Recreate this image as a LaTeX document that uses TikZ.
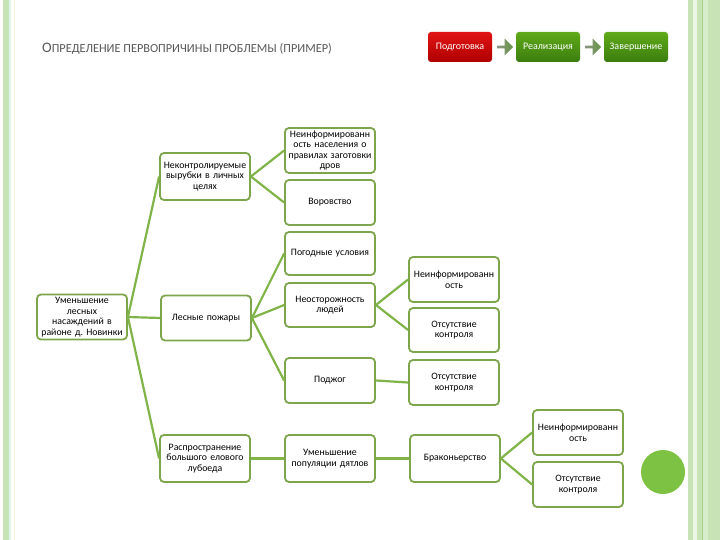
\documentclass[tikz,border=0pt]{standalone}
\usepackage{fontspec}
\setmainfont{Carlito}
\frenchspacing
\usetikzlibrary{shapes.arrows}
\definecolor{boxc}{RGB}{125,165,75}
\definecolor{linec}{RGB}{128,180,72}
\definecolor{titlec}{RGB}{89,89,89}
\definecolor{stripea}{RGB}{200,228,182}
\definecolor{stripeb}{RGB}{165,210,140}
\definecolor{stripec}{RGB}{225,245,240}
\definecolor{striped}{RGB}{250,240,215}
\definecolor{stripee}{RGB}{235,246,228}
\definecolor{stripef}{RGB}{215,236,202}
\definecolor{circc}{RGB}{125,194,66}
\definecolor{redtop}{RGB}{225,20,20}
\definecolor{redbot}{RGB}{175,0,0}
\definecolor{grtop}{RGB}{95,170,25}
\definecolor{grbot}{RGB}{60,125,15}
\definecolor{arl}{RGB}{140,150,130}
\definecolor{arr}{RGB}{100,150,70}
\begin{document}
\begin{tikzpicture}[x=1pt,y=-1pt,
  bx/.style={draw=boxc, line width=1.8pt, rounded corners=4pt, fill=white,
    minimum width=90pt, minimum height=45pt, align=center, inner sep=1pt,
    text width=88pt, font=\fontsize{9.8}{10.6}\selectfont},
  ln/.style={draw=linec, line width=2.2pt},
  btnred/.style={rounded corners=3pt, minimum width=64pt, minimum height=30pt,
    top color=redtop, bottom color=redbot,
    text=white, font=\fontsize{10}{11}\selectfont, inner sep=1pt},
  btngreen/.style={rounded corners=3pt, minimum width=64pt, minimum height=30pt,
    top color=grtop, bottom color=grbot,
    text=white, font=\fontsize{10}{11}\selectfont, inner sep=1pt},
  barrow/.style={single arrow, minimum height=16pt, minimum width=17pt, single arrow head extend=1pt,
    inner sep=0pt, left color=arl, right color=arr}
]
\useasboundingbox (0,0) rectangle (720,540);
\fill[white] (0,0) rectangle (720,540);
% left stripes
\fill[stripea] (3,0) rectangle (9,540);
\fill[stripec] (9,0) rectangle (11,540);
\fill[striped] (14,0) rectangle (15,540);
% right stripes
\fill[stripea] (688,0) rectangle (720,540);
\fill[stripee] (693,0) rectangle (697,540);
\fill[stripeb] (701.5,0) rectangle (703,540);
\fill[stripef] (703,0) rectangle (708,540);
% title
\node[anchor=base west, text=titlec, inner sep=0pt] (title) at (42,53)
  {{\fontsize{14.5}{16}\selectfont О}{\fontsize{12.3}{14}\selectfont ПРЕДЕЛЕНИЕ ПЕРВОПРИЧИНЫ ПРОБЛЕМЫ (ПРИМЕР)}};
% buttons
\node[btnred] (b1) at (460,47) {Подготовка};
\node[btngreen] (b2) at (548,47) {Реализация};
\node[btngreen] (b3) at (636,47) {Завершение};
\node[barrow] (a1) at (504.5,47) {};
\node[barrow] (a2) at (592.5,47) {};
% circle
\fill[circc] (663,472) circle (22);
% nodes
\node[bx] (root) at (82,317) {Уменьшение\\лесных\\насаждений в\\районе д. Новинки};
\node[bx, minimum height=47pt] (nk) at (205,176.5) {Неконтролируемые\\вырубки в личных\\целях};
\node[bx] (lp) at (206,318) {Лесные пожары};
\node[bx, minimum height=47pt] (rb) at (205,458.5) {Распространение\\большого елового\\лубоеда};
\node[bx] (nn) at (330,150.5) {Неинформированн\\ость населения о\\правилах заготовки\\дров};
\node[bx] (vr) at (330,202.5) {Воровство};
\node[bx, minimum height=43pt] (pu) at (330,253.5) {Погодные условия};
\node[bx, minimum height=44pt] (ns) at (330,305) {Неосторожность\\людей};
\node[bx] (pd) at (330,380.5) {Поджог};
\node[bx, minimum width=88pt] (ni1) at (454,279.5) {Неинформированн\\ость};
\node[bx, minimum width=88pt, minimum height=44pt] (ok1) at (454,330) {Отсутствие\\контроля};
\node[bx, minimum width=88pt] (ok2) at (454,382.5) {Отсутствие\\контроля};
\node[bx, minimum height=47pt] (ud) at (330,458.5) {Уменьшение\\популяции дятлов};
\node[bx, minimum height=47pt] (br) at (455,458.5) {Браконьерство};
\node[bx] (ni2) at (578,432.5) {Неинформированн\\ость};
\node[bx] (ok3) at (578,484.5) {Отсутствие\\контроля};
% connectors
\draw[ln] (root.east) -- (nk.west);
\draw[ln] (root.east) -- (lp.west);
\draw[ln] (root.east) -- (rb.west);
\draw[ln] (nk.east) -- (nn.west);
\draw[ln] (nk.east) -- (vr.west);
\draw[ln] (lp.east) -- (pu.west);
\draw[ln] (lp.east) -- (ns.west);
\draw[ln] (lp.east) -- (pd.west);
\draw[ln] (ns.east) -- (ni1.west);
\draw[ln] (ns.east) -- (ok1.west);
\draw[ln] (pd.east) -- (ok2.west);
\draw[ln] (rb.east) -- (ud.west);
\draw[ln] (ud.east) -- (br.west);
\draw[ln] (br.east) -- (ni2.west);
\draw[ln] (br.east) -- (ok3.west);
\end{tikzpicture}
\end{document}
